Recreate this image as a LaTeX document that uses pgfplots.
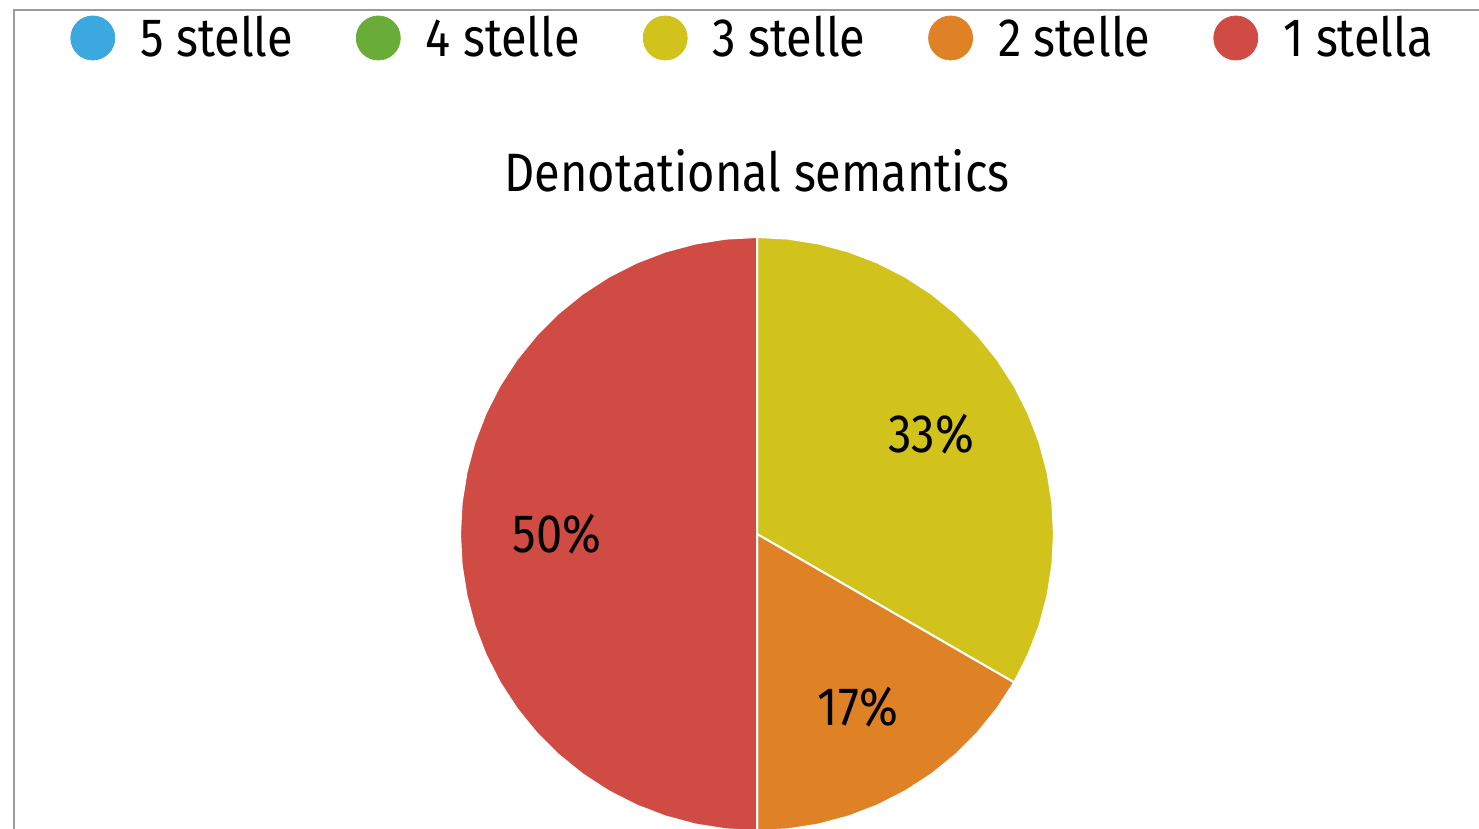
\documentclass[border=0pt]{standalone}
\usepackage{pgfplots}
\pgfplotsset{compat=1.18}
\usepackage{fontspec}
\setmainfont[FakeStretch=0.87]{Fira Sans}
\definecolor{c5}{HTML}{3BA8DF}
\definecolor{c4}{HTML}{6AAC38}
\definecolor{c3}{HTML}{D2C21C}
\definecolor{c2}{HTML}{DF8125}
\definecolor{c1}{HTML}{CF4B43}
\definecolor{frame}{HTML}{9A9A9A}
\begin{document}
\begin{tikzpicture}
\begin{axis}[
  at={(0,0)}, anchor=south west,
  scale only axis, width=739.5pt, height=414.5pt,
  xmin=-757, xmax=722, ymin=-295, ymax=534,
  axis lines=none, clip=true,
  legend columns=5,
  legend style={draw=none, fill=none, at={(axis cs:-693,496)}, anchor=west,
    font=\fontsize{27}{32}\selectfont, nodes={inner sep=0pt},
    /tikz/every odd column/.style={column sep=12.5pt},
    /tikz/every even column/.style={column sep=31.5pt}},
]
\addlegendimage{legend image code/.code={\fill[c5] (0pt,0pt) circle (11pt);}}
\addlegendentry{5 stelle}
\addlegendimage{legend image code/.code={\fill[c4] (0pt,0pt) circle (11pt);}}
\addlegendentry{4 stelle}
\addlegendimage{legend image code/.code={\fill[c3] (0pt,0pt) circle (11pt);}}
\addlegendentry{3 stelle}
\addlegendimage{legend image code/.code={\fill[c2] (0pt,0pt) circle (11pt);}}
\addlegendentry{2 stelle}
\addlegendimage{legend image code/.code={\fill[c1] (0pt,0pt) circle (11pt);}}
\addlegendentry{1 stella}
% 3 stelle: 33%
\addplot[forget plot, fill=c3, draw=white, line width=1pt, data cs=polar] coordinates {
 (0,0) (90,297) (84,297) (78,297) (72,297) (66,297) (60,297) (54,297) (48,297) (42,297) (36,297)
 (30,297) (24,297) (18,297) (12,297) (6,297) (0,297) (-6,297) (-12,297) (-18,297) (-24,297) (-30,297)
} -- cycle;
% 2 stelle: 17%
\addplot[forget plot, fill=c2, draw=white, line width=1pt, data cs=polar] coordinates {
 (0,0) (-30,297) (-36,297) (-42,297) (-48,297) (-54,297) (-60,297) (-66,297) (-72,297) (-78,297) (-84,297) (-90,297)
} -- cycle;
% 1 stella: 50%
\addplot[forget plot, fill=c1, draw=white, line width=1pt, data cs=polar] coordinates {
 (0,0) (-90,297) (-96,297) (-102,297) (-108,297) (-114,297) (-120,297) (-126,297) (-132,297) (-138,297) (-144,297)
 (-150,297) (-156,297) (-162,297) (-168,297) (-174,297) (-180,297) (-186,297) (-192,297) (-198,297) (-204,297)
 (-210,297) (-216,297) (-222,297) (-228,297) (-234,297) (-240,297) (-246,297) (-252,297) (-258,297) (-264,297) (-270,297)
} -- cycle;
\node[font=\fontsize{27}{32}\selectfont] at (axis cs:174,100) {33\%};
\node[font=\fontsize{27}{32}\selectfont] at (axis cs:101,-173) {17\%};
\node[font=\fontsize{27}{32}\selectfont] at (axis cs:-200,0) {50\%};
\node[font=\fontsize{27}{32}\selectfont, anchor=base] at (axis cs:0,342) {Denotational semantics};
\draw[frame, line width=1pt] (axis cs:-743,-400) -- (axis cs:-743,524) -- (axis cs:800,524);
\end{axis}
\pgfresetboundingbox
\path (0,0) rectangle (739.5pt,414.5pt);
\end{tikzpicture}
\end{document}
